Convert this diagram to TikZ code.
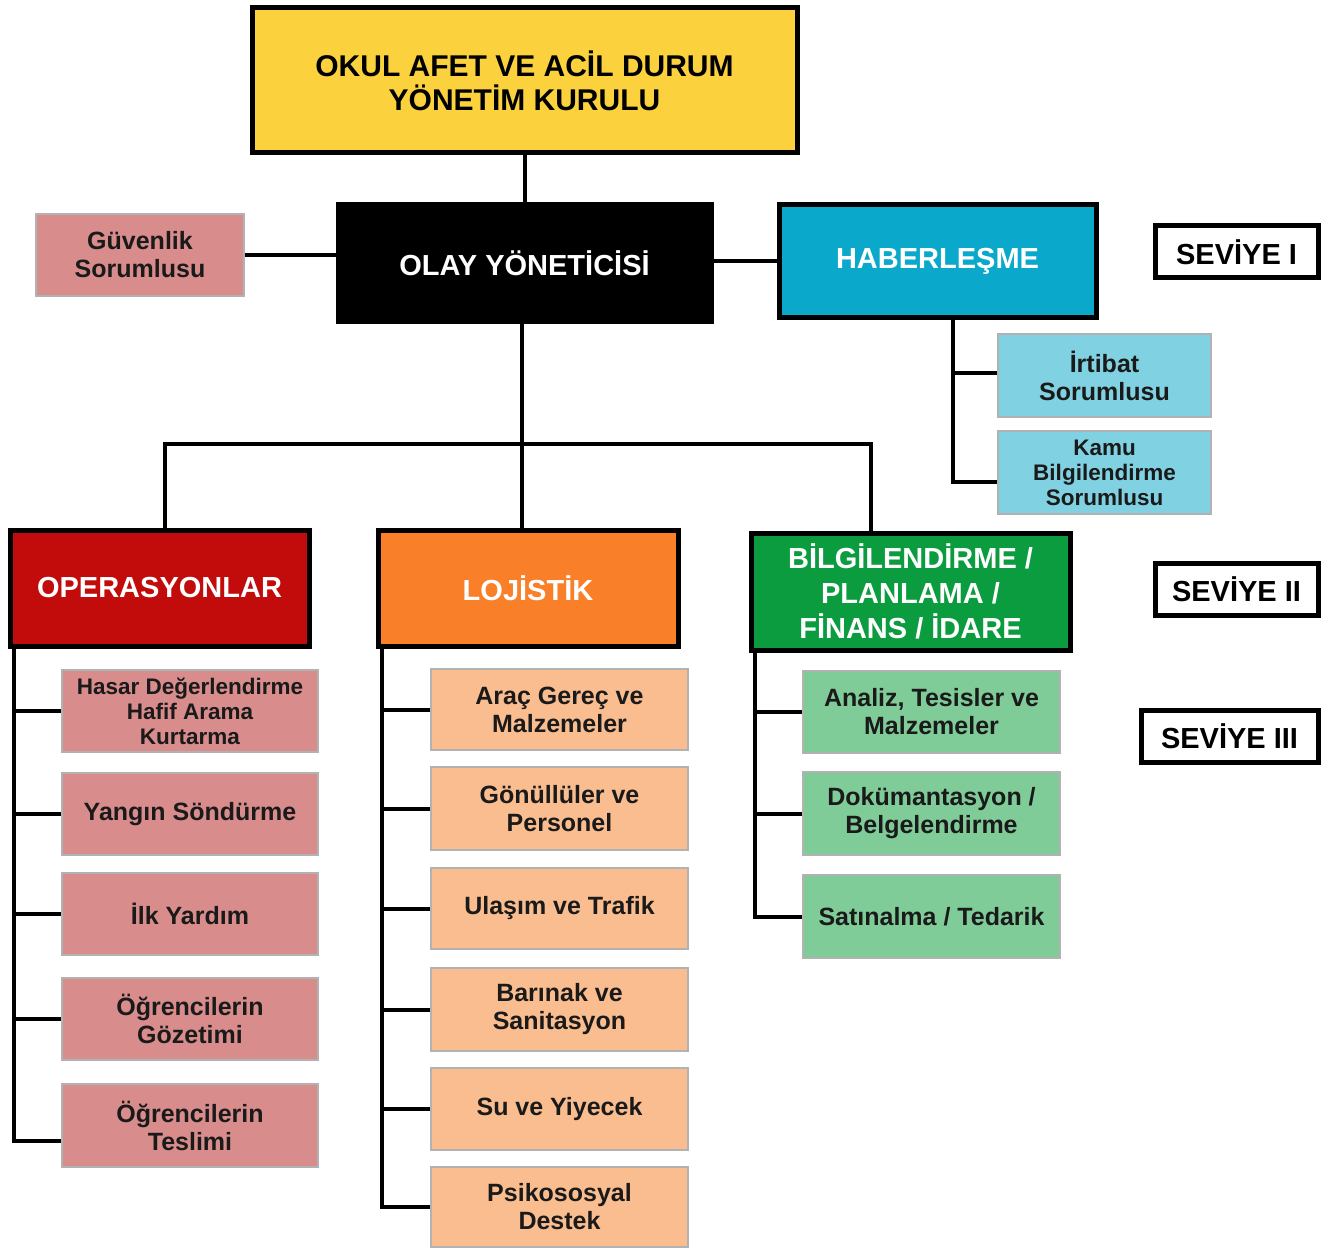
\documentclass[tikz,border=0pt]{standalone}
\usepackage{fontspec}
\setmainfont{Liberation Sans}
\definecolor{yellowc}{HTML}{FBD13E}
\definecolor{cyanc}{HTML}{0AA9CB}
\definecolor{redc}{HTML}{C20B0B}
\definecolor{orangec}{HTML}{F97F28}
\definecolor{greenc}{HTML}{0C9C40}
\definecolor{pinkc}{HTML}{D98C8C}
\definecolor{peachc}{HTML}{F9BD8F}
\definecolor{lgreenc}{HTML}{7FCC99}
\definecolor{lcyanc}{HTML}{80D2E2}
\definecolor{txtc}{HTML}{1A1A1A}
\tikzset{
  mainbox/.style={draw=black, line width=5pt, inner sep=0pt, align=center, font=\bfseries\fontsize{29}{35}\selectfont, text=white},
  childbox/.style={draw=black!30, line width=1.2pt, inner sep=0pt, align=center, font=\bfseries\fontsize{25}{28}\selectfont, text=txtc},
  smallchild/.style={childbox, font=\bfseries\fontsize{22.5}{25}\selectfont},
  levelbox/.style={draw=black, line width=5pt, fill=white, inner sep=0pt, font=\bfseries\fontsize{29}{35}\selectfont},
  conn/.style={line width=4pt, black},
}
\begin{document}
\begin{tikzpicture}[x=1pt, y=-1pt]
\useasboundingbox[fill=white] (0,0) rectangle (1344,1249);
% top
\node[mainbox, fill=yellowc, text=black, font=\bfseries\fontsize{30}{34}\selectfont, minimum width=545, minimum height=145] (kurul) at (524.5,80.5) {OKUL AFET VE ACİL DURUM\\YÖNETİM KURULU};
\node[mainbox, fill=black, minimum width=373, minimum height=117] (olay) at (524.5,263.5) {OLAY YÖNETİCİSİ};
\node[childbox, fill=pinkc, minimum width=208, minimum height=82] (guv) at (140,255) {Güvenlik\\Sorumlusu};
\node[mainbox, fill=cyanc, minimum width=317, minimum height=113] (hab) at (937.5,261.5) {HABERLEŞME};
\node[childbox, fill=lcyanc, minimum width=213, minimum height=83] (irt) at (1104.5,375.5) {İrtibat\\Sorumlusu};
\node[smallchild, fill=lcyanc, minimum width=213, minimum height=83] (kamu) at (1104.5,472.5) {Kamu\\Bilgilendirme\\Sorumlusu};
% levels
\node[levelbox, minimum width=163, minimum height=52] (s1) at (1236.5,252) {SEVİYE I};
\node[levelbox, minimum width=163, minimum height=52] (s2) at (1236.5,589) {SEVİYE II};
\node[levelbox, minimum width=177, minimum height=52] (s3) at (1229.5,736) {SEVİYE III};
% level 2
\node[mainbox, fill=redc, minimum width=299, minimum height=116] (ops) at (159.5,588) {OPERASYONLAR};
\node[mainbox, fill=orangec, minimum width=300, minimum height=116] (loj) at (528,588) {LOJİSTİK};
\node[mainbox, fill=greenc, minimum width=319, minimum height=117] (bil) at (910.5,591.5) {BİLGİLENDİRME /\\PLANLAMA /\\FİNANS / İDARE};
% operasyonlar children
\node[smallchild, fill=pinkc, minimum width=256, minimum height=82] (o1) at (190,711) {Hasar Değerlendirme\\Hafif Arama\\Kurtarma};
\node[childbox, fill=pinkc, minimum width=256, minimum height=82] (o2) at (190,814) {Yangın Söndürme};
\node[childbox, fill=pinkc, minimum width=256, minimum height=82] (o3) at (190,914) {İlk Yardım};
\node[childbox, fill=pinkc, minimum width=256, minimum height=82] (o4) at (190,1019) {Öğrencilerin\\Gözetimi};
\node[childbox, fill=pinkc, minimum width=256, minimum height=83] (o5) at (190,1125.5) {Öğrencilerin\\Teslimi};
% lojistik children
\node[childbox, fill=peachc, minimum width=257, minimum height=81] (l1) at (559.5,709.5) {Araç Gereç ve\\Malzemeler};
\node[childbox, fill=peachc, minimum width=257, minimum height=83] (l2) at (559.5,808.5) {Gönüllüler ve\\Personel};
\node[childbox, fill=peachc, minimum width=257, minimum height=81] (l3) at (559.5,908.5) {Ulaşım ve Trafik};
\node[childbox, fill=peachc, minimum width=257, minimum height=83] (l4) at (559.5,1009.5) {Barınak ve\\Sanitasyon};
\node[childbox, fill=peachc, minimum width=257, minimum height=82] (l5) at (559.5,1109) {Su ve Yiyecek};
\node[childbox, fill=peachc, minimum width=257, minimum height=80] (l6) at (559.5,1207) {Psikososyal\\Destek};
% bilgilendirme children
\node[childbox, fill=lgreenc, minimum width=257, minimum height=82] (b1) at (931.5,712) {Analiz, Tesisler ve\\Malzemeler};
\node[childbox, fill=lgreenc, minimum width=257, minimum height=83] (b2) at (931.5,813.5) {Dokümantasyon /\\Belgelendirme};
\node[childbox, fill=lgreenc, minimum width=257, minimum height=83] (b3) at (931.5,916.5) {Satınalma / Tedarik};
% connectors
\coordinate (busy) at (0,444);
\draw[conn] (kurul.south) -- (olay.north);
\draw[conn] (guv.east) -- (guv.east -| olay.west);
\draw[conn] (olay.east |- hab.west) -- (hab.west);
\draw[conn] ([xshift=-3pt]olay.south) -- ([xshift=-3pt]olay.south |- loj.north);
\draw[conn] ([xshift=5pt]ops.north) -- ([xshift=5pt]ops.north |- busy) -- ([xshift=-40pt]bil.north |- busy) -- ([xshift=-40pt]bil.north);
\draw[conn] ([xshift=15pt]hab.south) |- ([yshift=3pt]irt.west);
\draw[conn] ([xshift=15pt]hab.south) |- ([yshift=-9pt]kamu.west);
\foreach \c in {o1,o2,o3,o4}{
  \draw[conn] ([xshift=6pt]ops.south west) |- (\c.west);
}
\draw[conn] ([xshift=6pt]ops.south west) |- ([yshift=-15pt]o5.west);
\foreach \c in {l1,l2,l3,l4,l5,l6}{
  \draw[conn] ([xshift=6pt]loj.south west) |- (\c.west);
}
\foreach \c in {b1,b2,b3}{
  \draw[conn] ([xshift=6pt]bil.south west) |- (\c.west);
}
\end{tikzpicture}
\end{document}
